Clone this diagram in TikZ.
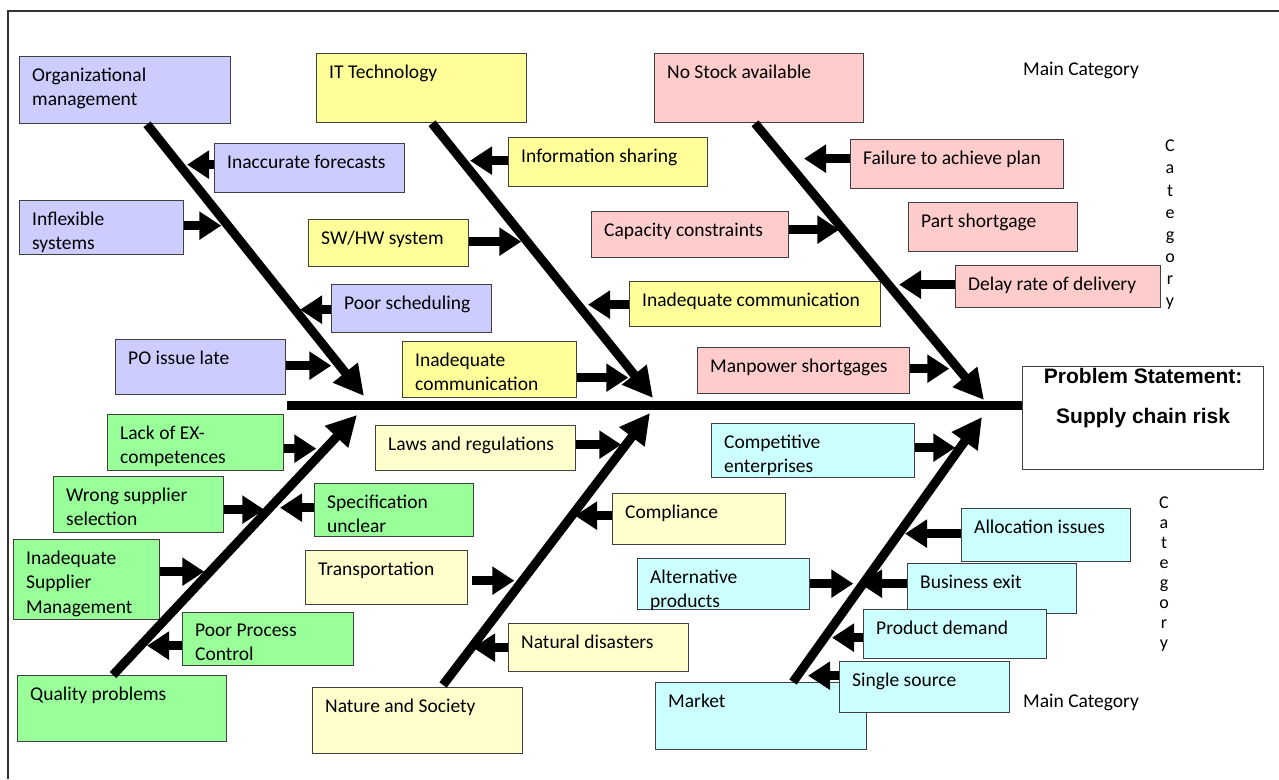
\documentclass[tikz,border=0pt]{standalone}
\usepackage{fontspec}
\setmainfont{Carlito}
\newfontfamily\probfont{Liberation Sans}
\usetikzlibrary{arrows.meta,calc}
\definecolor{cpur}{HTML}{CCCCFF}
\definecolor{cyel}{HTML}{FFFF99}
\definecolor{cpnk}{HTML}{FFCCCC}
\definecolor{cgrn}{HTML}{99FF99}
\definecolor{clye}{HTML}{FFFFCC}
\definecolor{ccya}{HTML}{CCFFFF}
\newcommand\bx[7]{%
  \node[box,fill=#2,minimum width=#5,minimum height=#6] (#1) at (#3,#4) {};
  \node[txt] (#1t) at ($(#1.north west)+(13,11.5)$) {#7};}
\begin{document}
\begin{tikzpicture}[x=1pt,y=-1pt,
  box/.style={draw=black!75,line width=1.3pt,anchor=north west,inner sep=0pt},
  txt/.style={anchor=north west,inner sep=0pt,align=left,font=\fontsize{19.5}{24.5}\selectfont},
  sarr/.style={line width=9pt,-{Triangle[length=22pt,width=27pt]}},
  barr/.style={line width=9pt,-{Triangle[length=30pt,width=30pt]}},
  lbl/.style={inner sep=0pt,font=\fontsize{19.5}{24.5}\selectfont},
  catl/.style={inner sep=0pt,anchor=north,align=center}
]
\useasboundingbox (0,0) rectangle (1279,779);
\fill[white] (0,0) rectangle (1279,779);
\draw[line width=1.5pt,black!80] (8,779) -- (8,11) -- (1279,11);

% purple
\bx{org}{cpur}{19}{56}{211}{67}{Organizational\\management}
\bx{inacc}{cpur}{214}{143}{190}{49}{Inaccurate forecasts}
\bx{inflex}{cpur}{19}{200}{164}{54}{Inflexible\\systems}
\bx{poorsch}{cpur}{331}{284}{160}{48}{Poor scheduling}
\bx{polate}{cpur}{115}{339}{170}{55}{PO issue late}
% yellow
\bx{ittech}{cyel}{316}{53}{210}{69}{IT Technology}
\bx{infosh}{cyel}{508}{137}{199}{49}{Information sharing}
\bx{swhw}{cyel}{308}{219}{160}{47}{SW/HW system}
\bx{inadca}{cyel}{629}{281}{251}{45}{Inadequate communication}
\bx{inadcb}{cyel}{402}{341}{174}{56}{Inadequate\\communication}
% pink
\bx{nostock}{cpnk}{654}{53}{209}{69}{No Stock available}
\bx{fail}{cpnk}{850}{139}{213}{49}{Failure to achieve plan}
\bx{capac}{cpnk}{591}{211}{197}{46}{Capacity constraints}
\bx{partsh}{cpnk}{908}{202}{169}{49}{Part shortgage}
\bx{delay}{cpnk}{955}{265}{205}{42}{Delay rate of delivery}
\bx{manpow}{cpnk}{697}{347}{212}{46}{Manpower shortgages}
% green
\bx{lack}{cgrn}{107}{414}{176}{56}{Lack of EX-\\competences}
\bx{wrong}{cgrn}{53}{476}{170}{56}{Wrong supplier\\selection}
\bx{spec}{cgrn}{314}{483}{159}{53}{Specification\\unclear}
\bx{insm}{cgrn}{13}{539}{146}{80}{Inadequate\\Supplier\\Management}
\bx{ppc}{cgrn}{182}{612}{171}{53}{Poor Process\\Control}
\bx{quality}{cgrn}{17}{675}{209}{66}{Quality problems}
% light yellow
\bx{laws}{clye}{375}{425}{200}{45}{Laws and regulations}
\bx{compl}{clye}{612}{493}{173}{51}{Compliance}
\bx{transp}{clye}{305}{550}{162}{54}{Transportation}
\bx{natdis}{clye}{508}{623}{180}{48}{Natural disasters}
\bx{natsoc}{clye}{312}{687}{210}{66}{Nature and Society}
% cyan
\bx{compet}{ccya}{711}{423}{203}{54}{Competitive\\enterprises}
\bx{alloc}{ccya}{961}{508}{169}{53}{Allocation issues}
\bx{altern}{ccya}{637}{558}{172}{51}{Alternative\\products}
\bx{bexit}{ccya}{907}{563}{169}{50}{Business exit}
\bx{market}{ccya}{655}{682}{211}{67}{Market}
\bx{proddem}{ccya}{863}{609}{183}{49}{Product demand}
\bx{single}{ccya}{839}{661}{170}{51}{Single source}

% problem statement
\node[box,fill=white,minimum width=241,minimum height=103] (prob) at (1022,366) {};
\node[inner sep=0pt,anchor=north,align=center,font=\probfont\bfseries\fontsize{21}{40}\selectfont] (probt) at ($(prob.north)+(0,2)$) {Problem Statement:\\Supply chain risk};

% labels
\node[lbl] (mc1) at (1081,70) {Main Category};
\node[lbl] (mc2) at (1081,702) {Main Category};
\node[catl,font=\fontsize{18}{22.1}\selectfont] (cat1) at (1170,140) {C\\a\\t\\e\\g\\o\\r\\y};
\node[catl,font=\fontsize{18}{20}\selectfont] (cat2) at (1164,497) {C\\a\\t\\e\\g\\o\\r\\y};

% spine and branches
\coordinate (spL) at (287,405);
\coordinate (tipA) at (364,396);
\coordinate (tipB) at (653,398);
\coordinate (tipC) at (984,400);
\coordinate (tipD) at (357,415);
\coordinate (tipE) at (650,413);
\coordinate (tipF) at (982,417);
\draw[line width=9pt] (spL) -- (spL -| prob.west);
\draw[barr] ($(org.south west)+(128,0)$) -- (tipA);
\draw[barr] ($(ittech.south west)+(116,0)$) -- (tipB);
\draw[barr] ($(nostock.south west)+(101,0)$) -- (tipC);
\draw[barr] ($(quality.north west)+(96,0)$) -- (tipD);
\draw[barr] ($(natsoc.north west)+(131,-2)$) -- (tipE);
\draw[barr] ($(market.north west)+(138,0)$) -- (tipF);

% small arrows
\draw[sarr] ($(inacc.west)+(0,-3.5)$) -- ++(-27,0);
\draw[sarr] ($(inflex.east)+(0,-2)$) -- ++(37,0);
\draw[sarr] ($(poorsch.west)+(0,1)$) -- ++(-31,0);
\draw[sarr] ($(polate.east)+(0,-1.5)$) -- ++(45,0);
\draw[sarr] ($(infosh.west)+(0,-1.5)$) -- ++(-38,0);
\draw[sarr] ($(swhw.east)+(0,-1.5)$) -- ++(52,0);
\draw[sarr] ($(inadca.west)+(0,0.5)$) -- ++(-41,0);
\draw[sarr] ($(inadcb.east)+(0,8)$) -- ++(51,0);
\draw[sarr] ($(fail.west)+(0,-5.5)$) -- ++(-46,0);
\draw[sarr] ($(capac.east)+(0,-5)$) -- ++(50,0);
\draw[sarr] ($(delay.west)+(0,-2)$) -- ++(-56,0);
\draw[sarr] ($(manpow.east)+(0,-2)$) -- ++(39,0);
\draw[sarr] ($(lack.east)+(0,6)$) -- ++(32,0);
\draw[sarr] ($(wrong.east)+(0,5)$) -- ++(40,0);
\draw[sarr] ($(spec.west)+(0,-2.5)$) -- ++(-34,0);
\draw[sarr] ($(insm.east)+(0,-8)$) -- ++(44,0);
\draw[sarr] ($(ppc.west)+(0,6.5)$) -- ++(-35,0);
\draw[sarr] ($(laws.east)+(0,-3.5)$) -- ++(45,0);
\draw[sarr] ($(compl.west)+(0,-3.5)$) -- ++(-37,0);
\draw[sarr] ($(transp.east)+(4,3)$) -- ++(42,0);
\draw[sarr] (natdis.west) -- ++(-35,0);
\draw[sarr] ($(compet.east)+(0,-3)$) -- ++(40,0);
\draw[sarr] ($(alloc.west)+(0,-1.5)$) -- ++(-56,0);
\draw[sarr] ($(altern.east)+(0,-0.5)$) -- ++(43,0);
\draw[sarr] ($(bexit.west)+(0,-5)$) -- ++(-47,0);
\draw[sarr] ($(proddem.west)+(0,3.5)$) -- ++(-31,0);
\draw[sarr] ($(single.west)+(0,-11.5)$) -- ++(-31,0);
\end{tikzpicture}
\end{document}
